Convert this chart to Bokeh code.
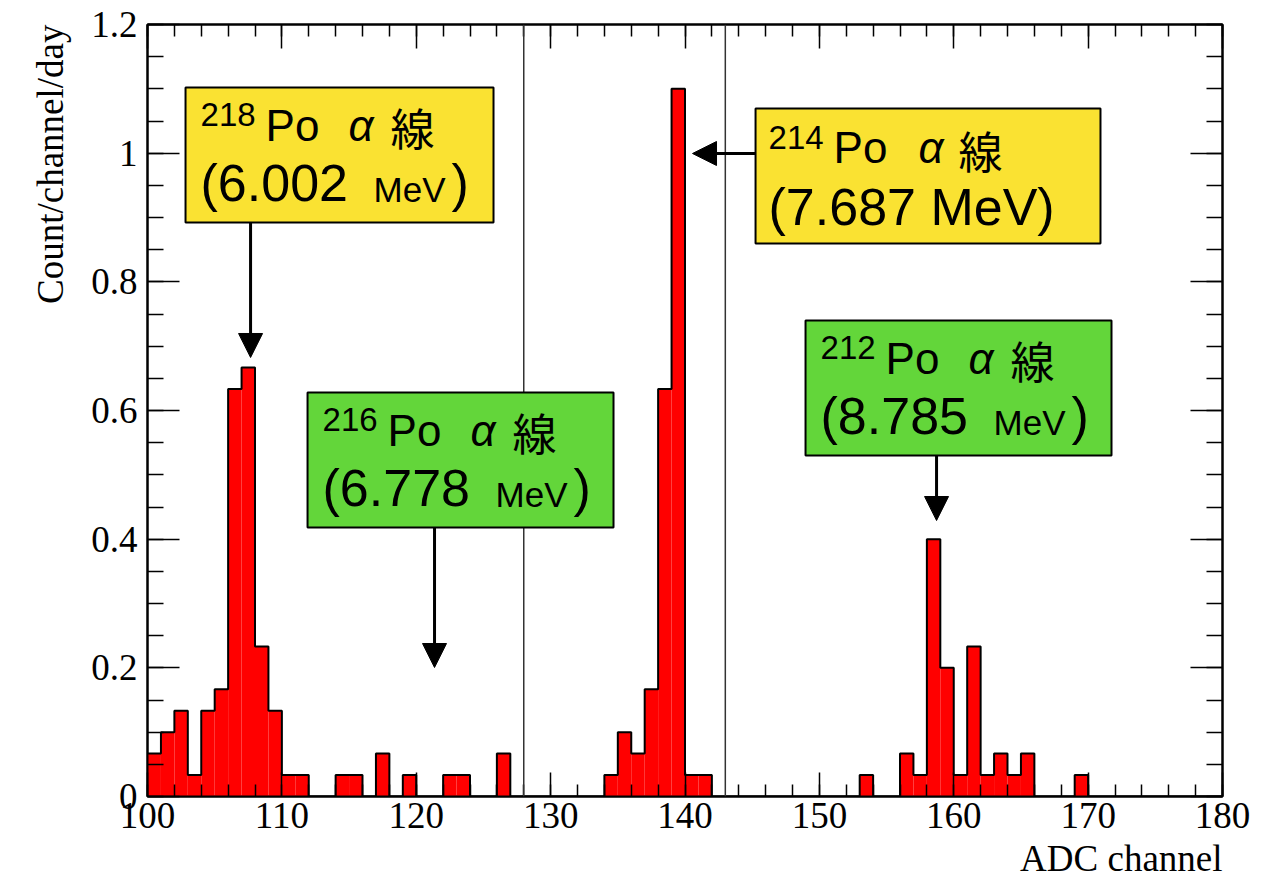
from bokeh.plotting import figure
from bokeh.models import (LinearAxis, SingleIntervalTicker, CustomJSTickFormatter, Span, Title,
                          BoxAnnotation, Label, Arrow, NormalHead, Range1d, ColumnDataSource)
from bokeh.embed import file_html
from bokeh.resources import INLINE

# ---- data: count/channel/day for ADC channels 100..179 (1-channel bins) ----
bin_left = list(range(100, 180))
bin_right = list(range(101, 181))
rate = [
    0.0667, 0.1, 0.1333, 0.0333, 0.1333, 0.1667, 0.6333, 0.6667, 0.2333, 0.1333,  # 100-109
    0.0333, 0.0333, 0, 0, 0.0333, 0.0333, 0, 0.0667, 0, 0.0333,                   # 110-119
    0, 0, 0.0333, 0.0333, 0, 0, 0.0667, 0, 0, 0,                                   # 120-129
    0, 0, 0, 0, 0.0333, 0.1, 0.0667, 0.1667, 0.6333, 1.1,                          # 130-139
    0.0333, 0.0333, 0, 0, 0, 0, 0, 0, 0, 0,                                        # 140-149
    0, 0, 0, 0.0333, 0, 0, 0.0667, 0.0333, 0.4, 0.2,                               # 150-159
    0.0333, 0.2333, 0.0333, 0.0667, 0.0333, 0.0667, 0, 0, 0, 0.0333,               # 160-169
    0, 0, 0, 0, 0, 0, 0, 0, 0, 0,                                                  # 170-179
]
cut_lines = [128, 143]
x_title = "ADC channel"
y_title = "Count/channel/day"

# annotations: (mass number, energy, unit-small?, colour, box left/right/top/bottom in data)
annots = [
    ("218", "6.002", True, "#FAE232", (102.83, 125.75, 1.1021, 0.8922)),
    ("216", "6.778", True, "#63D63A", (111.91, 134.68, 0.6280, 0.4181)),
    ("214", "7.687", False, "#FAE232", (145.25, 170.92, 1.0694, 0.8596)),
    ("212", "8.785", True, "#63D63A", (148.97, 171.74, 0.7399, 0.5301)),
]
arrows = [  # (x_start, y_start, x_end, y_end)
    (107.67, 0.8922, 107.67, 0.6824),
    (121.36, 0.4181, 121.36, 0.2005),
    (145.25, 0.9995, 140.56, 0.9995),
    (158.72, 0.5301, 158.72, 0.4290),
]

SERIF = "Liberation Serif"
SANS = "Liberation Sans"
CJK = "Noto Sans CJK JP"

p = figure(width=1275, height=883, x_range=Range1d(100, 180), y_range=Range1d(0, 1.2 + 1e-9),
           output_backend="svg", toolbar_location=None,
           min_border_left=147, min_border_right=53, min_border_top=24, min_border_bottom=87,
           background_fill_color="white", border_fill_color="white")
p.xgrid.visible = False
p.ygrid.visible = False
p.outline_line_color = "black"
p.outline_line_width = 2

yfmt = CustomJSTickFormatter(code="return tick.toFixed(1).replace(/\\.0$/, '');")
blank = CustomJSTickFormatter(code="return '';")


def style_x(ax, labels=True):
    ax.ticker = SingleIntervalTicker(interval=10, num_minor_ticks=5)
    ax.major_tick_in = 24
    ax.major_tick_out = 0
    ax.minor_tick_in = 12
    ax.minor_tick_out = 0
    ax.axis_line_width = 2
    ax.major_tick_line_width = 1.5
    ax.minor_tick_line_width = 1.5
    if labels:
        ax.major_label_text_font = SERIF
        ax.major_label_text_font_size = "37px"
        ax.major_label_text_color = "black"
        ax.major_label_standoff = 6
    else:
        ax.formatter = blank
        ax.major_label_text_font_size = "1px"
        ax.major_label_standoff = 0


def style_y(ax, labels=True):
    ax.ticker = SingleIntervalTicker(interval=0.2, num_minor_ticks=4)
    ax.major_tick_in = 32
    ax.major_tick_out = 0
    ax.minor_tick_in = 16
    ax.minor_tick_out = 0
    ax.axis_line_width = 2
    ax.major_tick_line_width = 1.5
    ax.minor_tick_line_width = 1.5
    if labels:
        ax.formatter = yfmt
        ax.major_label_text_font = SERIF
        ax.major_label_text_font_size = "37px"
        ax.major_label_text_color = "black"
        ax.major_label_standoff = 10
    else:
        ax.formatter = blank
        ax.major_label_text_font_size = "1px"
        ax.major_label_standoff = 0


style_x(p.xaxis[0])
style_y(p.yaxis[0])
top_ax = LinearAxis()
style_x(top_ax, labels=False)
p.add_layout(top_ax, "above")
right_ax = LinearAxis()
style_y(right_ax, labels=False)
p.add_layout(right_ax, "right")

# axis titles (ROOT style: at the far end of each axis)
p.add_layout(Title(text=x_title, align="right", text_font=SERIF, text_font_size="37px",
                   text_font_style="normal", text_color="black", standoff=10), "below")
p.add_layout(Title(text=y_title, align="right", text_font=SERIF, text_font_size="37px",
                   text_font_style="normal", text_color="black", standoff=36), "left")

# histogram fill + step outline
src = ColumnDataSource(dict(left=bin_left, right=bin_right, top=rate))
p.quad(left="left", right="right", top="top", bottom=0, source=src,
       fill_color="#FF0000", line_color=None)
step_x = bin_left + [bin_right[-1]]
step_y = rate + [0]
p.step(step_x, step_y, mode="after", line_color="black", line_width=2)

for c in cut_lines:
    p.add_layout(Span(location=c, dimension="height", line_color="#333333", line_width=1.5))

# boxes with labels
for mass, energy, small_unit, col, (L, R, T, B) in annots:
    p.add_layout(BoxAnnotation(left=L, right=R, top=T, bottom=B, fill_color=col, fill_alpha=1,
                               line_color="black", line_width=2, line_alpha=1))

    def piece(txt, dx, dy, size, font=SANS, style="normal"):
        p.add_layout(Label(x=L, y=T, x_offset=dx, y_offset=-dy, text=txt, text_align="left",
                           text_baseline="alphabetic", text_font=font, text_font_size=size,
                           text_font_style=style, text_color="black"))

    if small_unit:
        piece(mass, 15, 27, "33px")
        piece("Po", 80, 38, "44px")
        piece("α", 163, 38, "44px", style="italic")
        piece("線", 205, 40, "44px", font=CJK)
        piece("(" + energy, 15, 96, "52px")
        piece("MeV", 188, 102, "35px")
        piece(")", 266, 96, "52px")
    else:
        piece(mass, 13, 29, "33px")
        piece("Po", 78, 39, "44px")
        piece("α", 163, 39, "44px", style="italic")
        piece("線", 203, 41, "44px", font=CJK)
        piece("(" + energy + " MeV)", 13, 98, "52px")

for xs, ys, xe, ye in arrows:
    p.add_layout(Arrow(x_start=xs, y_start=ys, x_end=xe, y_end=ye, line_width=3,
                       line_color="black",
                       end=NormalHead(size=24, fill_color="black", line_color="black")))

open("out.html", "w").write(file_html(p, INLINE))
